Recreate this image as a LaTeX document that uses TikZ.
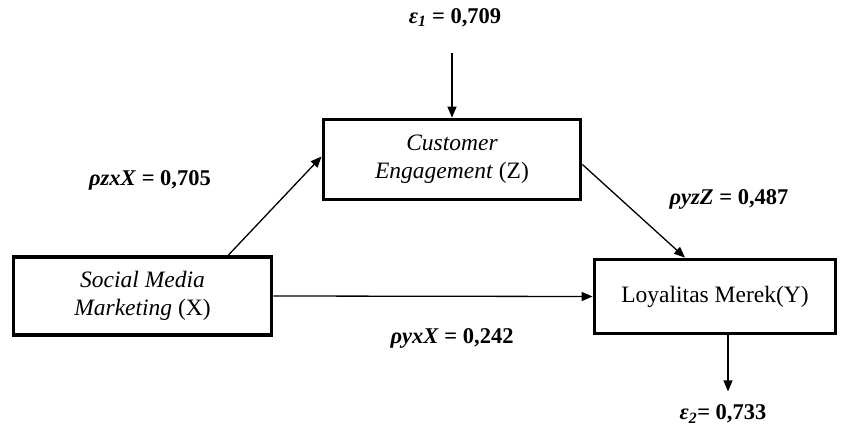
\documentclass[tikz,border=0pt]{standalone}
\usepackage{fontspec}
\setmainfont{Liberation Serif}
\usetikzlibrary{arrows.meta}

\tikzset{
  varbox/.style={draw, line width=3.8pt, align=center, font=\fontsize{23.5}{28}\selectfont},
  arr/.style={line width=1.3pt, -{Triangle[length=11pt,width=9pt]}},
  coef/.style={font=\fontsize{22.5}{26}\selectfont\bfseries}
}

\begin{document}
\begin{tikzpicture}[x=1pt,y=-1pt]
        \useasboundingbox (0,0) rectangle (842,430);

        \node[varbox, minimum width=258pt, minimum height=78pt] (X) at (142.5,296)
          {\textit{Social Media}\\ \textit{Marketing} (X)};
        \node[varbox, minimum width=257pt, minimum height=80pt] (Z) at (452,159.5)
          {\textit{Customer}\\ \textit{Engagement} (Z)};
        \node[varbox, minimum width=241pt, minimum height=74pt] (Y) at (715,296.5)
          {Loyalitas Merek(Y)};

        \node[coef] (e1) at (455,18) {\textit{ε\textsubscript{1}} = 0,709};
        \node[coef] (e2) at (723,414) {\textit{ε\textsubscript{2}}= 0,733};
        \node[coef] (pzx) at (150,180) {\textit{ρzxX} = 0,705};
        \node[coef] (pyz) at (729,199) {\textit{ρyzZ} = 0,487};
        \node[coef] (pyx) at (452,338) {\textit{ρyxX} = 0,242};

        \draw[arr] ([xshift=-45pt]X.north east) -- ([yshift=3pt]Z.west);
        \draw[arr] ([yshift=-5pt]Z.east) -- ([xshift=-30pt]Y.north);
        \draw[arr] (X.east) -- (Y.west);
        \draw[arr] ([yshift=-22pt]e1.south -| Z.north) -- (Z.north);
        \draw[arr] ([xshift=13pt]Y.south) -- ++(0,56);
    \end{tikzpicture}
\end{document}
